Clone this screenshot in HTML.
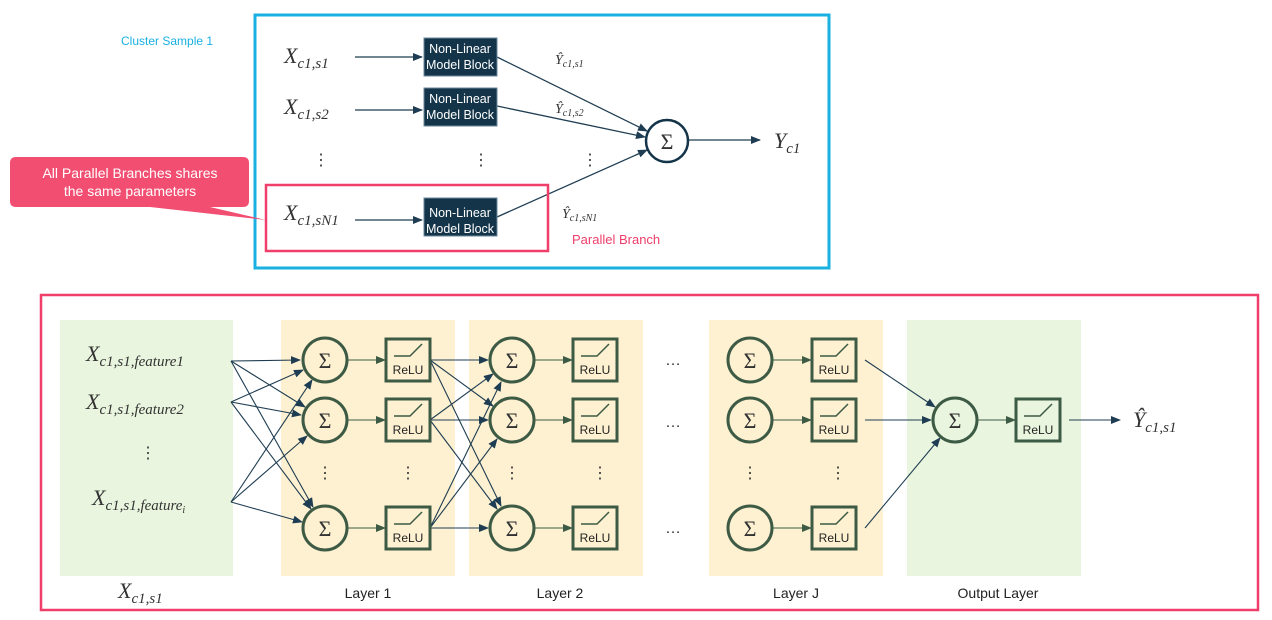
<!DOCTYPE html>
<html><head><meta charset="utf-8"><style>
html,body{margin:0;padding:0;background:#fff;}
svg{display:block;}
.m{font-family:"Liberation Serif",serif;font-style:italic;fill:#333;}
.s{font-family:"Liberation Sans",sans-serif;}
</style></head><body>
<svg width="1272" height="620" viewBox="0 0 1272 620" xmlns="http://www.w3.org/2000/svg">
<defs>
<marker id="a" markerWidth="10" markerHeight="8" refX="9" refY="4" orient="auto" markerUnits="userSpaceOnUse"><path d="M0,0 L10,4 L0,8 z" fill="#1f3d52"/></marker>
<marker id="g" markerWidth="10" markerHeight="8" refX="9" refY="4" orient="auto" markerUnits="userSpaceOnUse"><path d="M0,0 L10,4 L0,8 z" fill="#3d5a45"/></marker>
<g id="relu"><rect x="0" y="0" width="44" height="42" fill="none" stroke="#3d5a45" stroke-width="3"/><polyline points="8,17 24,17 36,5" fill="none" stroke="#3d5a45" stroke-width="1.5"/><text x="22" y="35" font-size="12" text-anchor="middle" class="s" fill="#222">ReLU</text></g>
<g id="sig"><circle cx="0" cy="0" r="22" fill="none" stroke="#3d5a45" stroke-width="3"/><text x="0" y="8" font-size="22" text-anchor="middle" font-family="Liberation Serif,serif" fill="#333">Σ</text></g>
</defs>

<!-- TOP -->
<rect x="255" y="15" width="574" height="253" fill="none" stroke="#1ab0e0" stroke-width="3"/>
<text x="121" y="45" font-size="12" class="s" fill="#1ab0e0">Cluster Sample 1</text>

<g class="m">
<text x="284" y="63" font-size="22">X<tspan font-size="15" dy="5">c1,s1</tspan></text>
<text x="284" y="114" font-size="22">X<tspan font-size="15" dy="5">c1,s2</tspan></text>
<text x="284" y="220" font-size="22">X<tspan font-size="15" dy="5">c1,sN1</tspan></text>
<text x="774" y="148" font-size="22">Y<tspan font-size="15" dy="5">c1</tspan></text>
<text x="555" y="64" font-size="14">Ŷ<tspan font-size="10" dy="3">c1,s1</tspan></text>
<text x="555" y="113" font-size="14">Ŷ<tspan font-size="10" dy="3">c1,s2</tspan></text>
<text x="562" y="218" font-size="14">Ŷ<tspan font-size="10" dy="3">c1,sN1</tspan></text>
</g>
<g fill="#333" font-size="16" font-family="Liberation Sans,sans-serif">
<text x="313" y="165">⋮</text><text x="473" y="165">⋮</text><text x="582" y="165">⋮</text>
</g>
<g stroke="#1f3d52" stroke-width="1.3" marker-end="url(#a)">
<line x1="355" y1="57" x2="422" y2="57"/>
<line x1="355" y1="110" x2="422" y2="110"/>
<line x1="355" y1="220" x2="422" y2="220"/>
<line x1="497" y1="57" x2="647" y2="131"/>
<line x1="497" y1="106" x2="645" y2="137"/>
<line x1="497" y1="217" x2="647" y2="150"/>
<line x1="689" y1="140" x2="760" y2="140"/>
</g>
<g class="s" font-size="12.5" fill="#fff" text-anchor="middle">
<rect x="424" y="38" width="73" height="38" fill="#143449" stroke="#6a8799" stroke-width="1"/>
<text x="460" y="53">Non-Linear</text><text x="460" y="69">Model Block</text>
<rect x="424" y="88" width="73" height="38" fill="#143449" stroke="#6a8799" stroke-width="1"/>
<text x="460" y="103">Non-Linear</text><text x="460" y="119">Model Block</text>
<rect x="424" y="198" width="73" height="38" fill="#143449" stroke="#6a8799" stroke-width="1"/>
<text x="460" y="217">Non-Linear</text><text x="460" y="233">Model Block</text>
</g>
<circle cx="667" cy="141" r="21" fill="#fff" stroke="#143449" stroke-width="2.5"/>
<text x="667" y="149" font-size="22" text-anchor="middle" font-family="Liberation Serif,serif" fill="#333">Σ</text>
<rect x="266" y="185" width="282" height="66" fill="none" stroke="#ef3e6a" stroke-width="2.5"/>
<text x="572" y="244" font-size="13" class="s" fill="#ef3e6a">Parallel Branch</text>

<path d="M16,157 H243 Q249,157 249,163 V201 Q249,207 243,207 H210 L266,220 L150,207 H16 Q10,207 10,201 V163 Q10,157 16,157 Z" fill="#f24e72"/>
<text x="130" y="178" font-size="14" class="s" fill="#fff" text-anchor="middle">All Parallel Branches shares</text>
<text x="130" y="196" font-size="14" class="s" fill="#fff" text-anchor="middle">the same parameters</text>

<!-- BOTTOM -->
<rect x="41" y="295" width="1217" height="315" fill="none" stroke="#ef3e6a" stroke-width="2.5"/>
<rect x="60" y="320" width="173" height="256" fill="#e9f5de"/>
<rect x="281" y="320" width="174" height="256" fill="#fdf1d1"/>
<rect x="469" y="320" width="174" height="256" fill="#fdf1d1"/>
<rect x="709" y="320" width="174" height="256" fill="#fdf1d1"/>
<rect x="907" y="320" width="174" height="256" fill="#e9f5de"/>

<g class="m">
<text x="86" y="361" font-size="22">X<tspan font-size="15" dy="5">c1,s1,feature1</tspan></text>
<text x="86" y="409" font-size="22">X<tspan font-size="15" dy="5">c1,s1,feature2</tspan></text>
<text x="92" y="505" font-size="22">X<tspan font-size="15" dy="5">c1,s1,feature</tspan><tspan font-size="10" dy="3">i</tspan></text>
<text x="118" y="598" font-size="22">X<tspan font-size="15" dy="5">c1,s1</tspan></text>
<text x="1133" y="427" font-size="22">Ŷ<tspan font-size="15" dy="5">c1,s1</tspan></text>
</g>
<g class="s" font-size="14" fill="#222" text-anchor="middle">
<text x="368" y="598">Layer 1</text><text x="560" y="598">Layer 2</text><text x="796" y="598">Layer J</text><text x="998" y="598">Output Layer</text>
</g>
<g fill="#333" font-size="16" font-family="Liberation Sans,sans-serif" text-anchor="middle">
<text x="148" y="458">⋮</text>
<text x="325" y="478">⋮</text><text x="408" y="478">⋮</text>
<text x="512" y="478">⋮</text><text x="600" y="478">⋮</text>
<text x="750" y="478">⋮</text><text x="838" y="478">⋮</text>
<text x="673" y="365">…</text><text x="673" y="427">…</text><text x="673" y="533">…</text>
</g>

<g stroke="#1f3d52" stroke-width="1.1" marker-end="url(#a)">
<line x1="231" y1="361" x2="300" y2="360"/>
<line x1="231" y1="361" x2="305" y2="407"/>
<line x1="231" y1="361" x2="313" y2="507"/>
<line x1="231" y1="402" x2="303" y2="370"/>
<line x1="231" y1="402" x2="301" y2="415"/>
<line x1="231" y1="402" x2="311" y2="509"/>
<line x1="231" y1="502" x2="312" y2="380"/>
<line x1="231" y1="502" x2="307" y2="436"/>
<line x1="231" y1="502" x2="302" y2="522"/>
<line x1="430" y1="360" x2="488" y2="360"/>
<line x1="430" y1="360" x2="493" y2="406"/>
<line x1="430" y1="360" x2="501" y2="506"/>
<line x1="430" y1="420" x2="493" y2="374"/>
<line x1="430" y1="420" x2="488" y2="420"/>
<line x1="430" y1="420" x2="497" y2="509"/>
<line x1="430" y1="528" x2="501" y2="382"/>
<line x1="430" y1="528" x2="497" y2="439"/>
<line x1="430" y1="528" x2="488" y2="528"/>
<line x1="865" y1="360" x2="935" y2="407"/>
<line x1="865" y1="420" x2="931" y2="420"/>
<line x1="865" y1="528" x2="940" y2="438"/>
<line x1="1069" y1="420" x2="1120" y2="420"/>
</g>
<g stroke="#3d5a45" stroke-width="1.1" marker-end="url(#g)">
<line x1="348" y1="360" x2="385" y2="360"/><line x1="348" y1="420" x2="385" y2="420"/><line x1="348" y1="528" x2="385" y2="528"/>
<line x1="535" y1="360" x2="572" y2="360"/><line x1="535" y1="420" x2="572" y2="420"/><line x1="535" y1="528" x2="572" y2="528"/>
<line x1="773" y1="360" x2="811" y2="360"/><line x1="773" y1="420" x2="811" y2="420"/><line x1="773" y1="528" x2="811" y2="528"/>
<line x1="978" y1="420" x2="1015" y2="420"/>
</g>

<use href="#sig" x="325" y="360"/><use href="#sig" x="325" y="420"/><use href="#sig" x="325" y="528"/>
<use href="#sig" x="512" y="360"/><use href="#sig" x="512" y="420"/><use href="#sig" x="512" y="528"/>
<use href="#sig" x="750" y="360"/><use href="#sig" x="750" y="420"/><use href="#sig" x="750" y="528"/>
<use href="#sig" x="955" y="420"/>
<use href="#relu" x="386" y="339"/><use href="#relu" x="386" y="399"/><use href="#relu" x="386" y="507"/>
<use href="#relu" x="573" y="339"/><use href="#relu" x="573" y="399"/><use href="#relu" x="573" y="507"/>
<use href="#relu" x="812" y="339"/><use href="#relu" x="812" y="399"/><use href="#relu" x="812" y="507"/>
<use href="#relu" x="1016" y="399"/>
</svg>
</body></html>
